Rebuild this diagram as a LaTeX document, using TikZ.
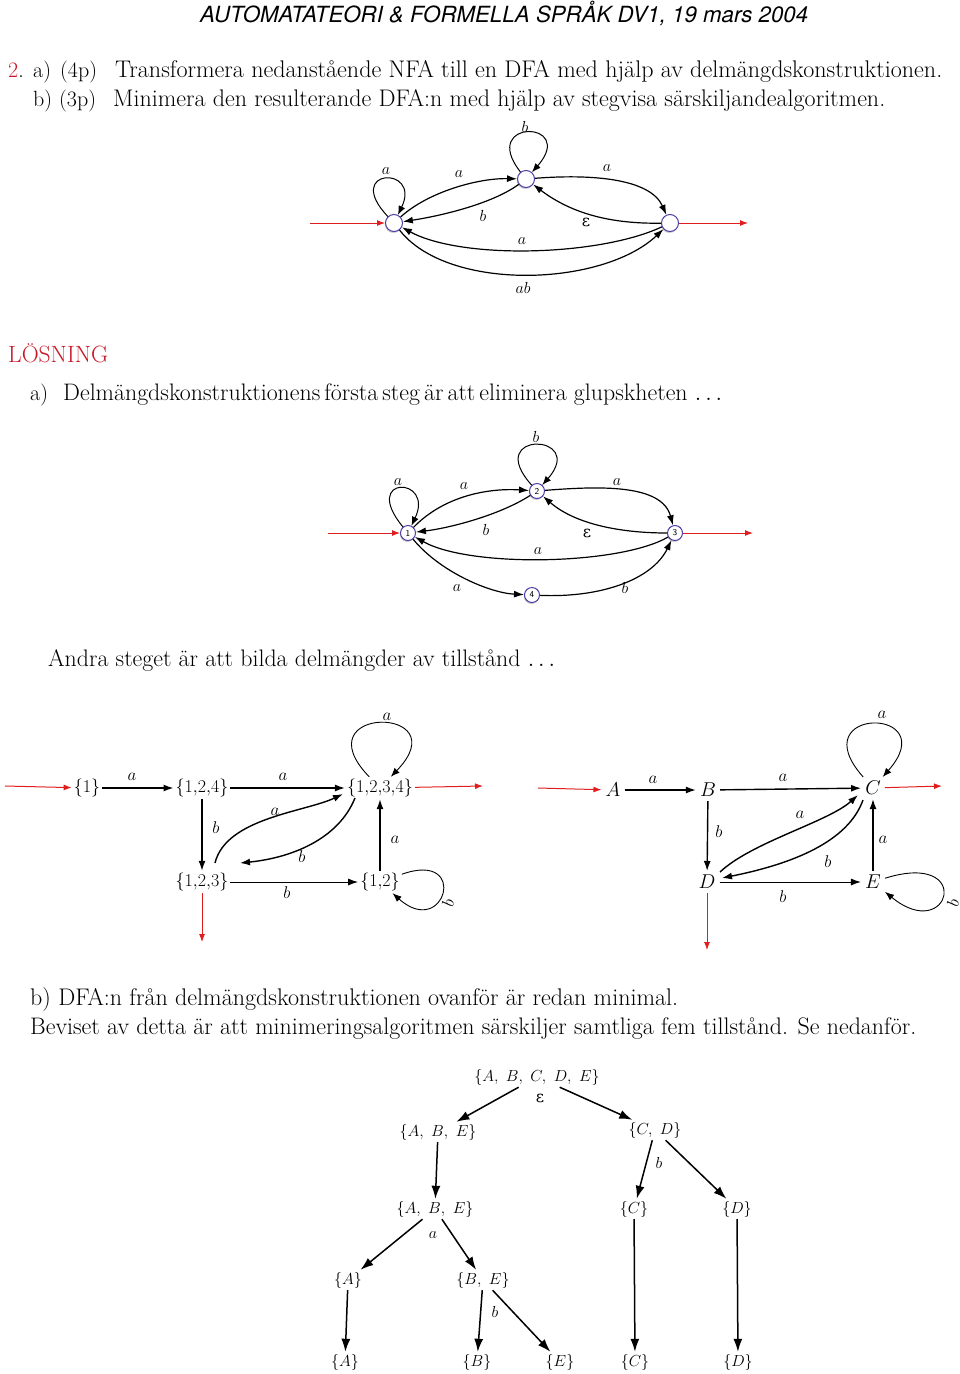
\RequirePackage{fix-cm}
\documentclass[tikz,border=0pt]{standalone}
\usepackage{fontspec}
\usepackage{graphicx}
\newfontfamily\helv{TeX Gyre Heros}
\newfontfamily\dvs{DejaVu Serif}
\usetikzlibrary{arrows.meta,shadows}
\definecolor{stateblue}{RGB}{80,60,165}
\definecolor{arrred}{RGB}{225,30,30}
\definecolor{headred}{RGB}{200,25,40}
\begin{document}
\begin{tikzpicture}[x=1pt,y=1pt,
  st/.style={circle,draw=stateblue,line width=1pt,fill=white,minimum size=17pt,inner sep=0pt,
    drop shadow={fill=black,opacity=0.2,shadow xshift=-0.6pt,shadow yshift=-1.5pt}},
  stn/.style={st,minimum size=15pt,font=\sffamily\fontsize{9}{9}\selectfont},
  arr/.style={-{Latex[length=10pt,width=7pt]},line width=1.2pt},
  lp/.style={-{Latex[length=9pt,width=7pt]},line width=1pt},
  redarr/.style={-{Latex[length=8pt,width=6pt]},draw=arrred,line width=1pt},
  lab/.style={inner sep=0pt,font=\fontsize{16}{16}\selectfont},
  dlab/.style={inner sep=0pt,font=\fontsize{17}{17}\selectfont},
  txt/.style={anchor=base west,inner sep=0pt,font=\fontsize{22}{26}\selectfont},
  setn/.style={inner sep=2pt,font=\fontsize{18}{18}\selectfont},
  letn/.style={inner sep=4pt,font=\fontsize{20}{20}\selectfont},
  darr/.style={-{Latex[length=10pt,width=7pt]},line width=1.4pt},
  tharr/.style={-{Latex[length=10pt,width=7pt]},line width=1pt},
  dlp/.style={-{Latex[length=9pt,width=7pt]},line width=0.9pt},
  tr/.style={inner sep=2pt,font=\fontsize{16}{16}\selectfont},
  tarr/.style={-{Latex[length=13pt,width=9pt]},line width=1.5pt},
]
\useasboundingbox (0,0) rectangle (960,-1374);

% ---------- texts ----------
\node[anchor=base west,inner sep=0pt,font=\fontsize{20}{24}\selectfont] (hdr) at (200,-22)
  {\resizebox{608pt}{!}{\helv\itshape AUTOMATATEORI \& FORMELLA SPR\AA K DV1, 19 mars 2004}};
\node[txt] (q2) at (8,-77) {\textcolor{headred}{2}.};
\node[txt] (qa) at (33,-77) {a)};
\node[txt] (q4p) at (60,-77) {(4p)};
\node[txt] (qt1) at (115,-77) {\resizebox{827pt}{!}{Transformera nedanstående NFA till en DFA med hjälp av delmängdskonstruktionen.}};
\node[txt] (qb) at (33,-106) {b)};
\node[txt] (q3p) at (59,-106) {(3p)};
\node[txt] (qt2) at (113,-106) {\resizebox{772pt}{!}{Minimera den resulterande DFA:n med hjälp av stegvisa särskiljandealgoritmen.}};
\node[txt,text=headred] (los) at (8,-362) {\resizebox{100pt}{!}{LÖSNING}};
\node[txt] (sa) at (30,-400) {a)};
\node[txt] (sat) at (63,-400) {\resizebox{659pt}{!}{{\spaceskip=0.17em plus 0.02em Delmängdskonstruktionens första steg är att eliminera} glupskheten $\ldots$}};
\node[txt] (and) at (48,-666) {\resizebox{507pt}{!}{Andra steget är att bilda delmängder av tillstånd $\ldots$}};
\node[txt] (sb) at (30,-1005) {\resizebox{648pt}{!}{b) DFA:n från delmängdskonstruktionen ovanför är redan minimal.}};
\node[txt] (bev) at (30,-1034) {\resizebox{886pt}{!}{Beviset av detta är att minimeringsalgoritmen särskiljer samtliga fem tillstånd. Se nedanför.}};

% ---------- NFA 1 ----------
\node[st] (s1) at (394,-223) {};
\node[st] (s2) at (526,-179) {};
\node[st] (s3) at (670,-223) {};
\coordinate (i1) at (310,-223);
\coordinate (o1) at (748,-223);
\draw[redarr] (i1) -- (s1);
\draw[redarr] (s3) -- (o1);
\draw[lp] (s1) .. controls (342,-168) and (422,-165) .. (s1);
\draw[lp] (s2) .. controls (478,-118) and (578,-120) .. (s2);
\draw[arr] (s1) .. controls (428,-192) and (478,-178) .. (s2);
\draw[arr] (s2) .. controls (492,-204) and (440,-216) .. (s1);
\draw[arr] (s2) .. controls (590,-174) and (650,-178) .. (s3);
\draw[arr] (s3) .. controls (612,-224) and (572,-214) .. (s2);
\draw[arr] (s3) .. controls (600,-256) and (462,-260) .. (s1);
\draw[arr] (s1) .. controls (448,-292) and (602,-287) .. (s3);
\node[lab] (l1) at (386,-171) {$a$};
\node[lab] (l2) at (525,-127) {$b$};
\node[lab] (l3) at (459,-174) {$a$};
\node[lab] (l4) at (483,-216) {$b$};
\node[lab] (l5) at (607,-168) {$a$};
\node[lab] (l6) at (586,-222) {\dvs ε};
\node[lab] (l7) at (522,-241) {$a$};
\node[lab] (l8) at (523,-288) {$ab$};

% ---------- NFA 2 ----------
\node[stn] (t1) at (408,-533) {1};
\node[stn] (t2) at (537,-491) {2};
\node[stn] (t3) at (675,-533) {3};
\node[stn] (t4) at (532,-595) {4};
\coordinate (i2) at (328,-533);
\coordinate (o2) at (753,-533);
\draw[redarr] (i2) -- (t1);
\draw[redarr] (t3) -- (o2);
\draw[lp] (t1) .. controls (360,-475) and (435,-476) .. (t1);
\draw[lp] (t2) .. controls (482,-430) and (588,-433) .. (t2);
\draw[arr] (t1) .. controls (445,-495) and (490,-488) .. (t2);
\draw[arr] (t2) .. controls (500,-515) and (450,-528) .. (t1);
\draw[arr] (t2) .. controls (600,-486) and (662,-484) .. (t3);
\draw[arr] (t3) .. controls (620,-533) and (575,-524) .. (t2);
\draw[arr] (t3) .. controls (620,-565) and (470,-568) .. (t1);
\draw[arr] (t1) .. controls (440,-572) and (490,-593) .. (t4);
\draw[arr] (t4) .. controls (600,-598) and (652,-580) .. (t3);
\node[lab] (m1) at (398,-482) {$a$};
\node[lab] (m2) at (536,-437) {$b$};
\node[lab] (m3) at (464,-486) {$a$};
\node[lab] (m4) at (486,-530) {$b$};
\node[lab] (m5) at (617,-482) {$a$};
\node[lab] (m6) at (587,-533) {\dvs ε};
\node[lab] (m7) at (538,-551) {$a$};
\node[lab] (m8) at (457,-588) {$a$};
\node[lab] (m9) at (625,-588) {$b$};

% ---------- subset DFA ----------
\node[setn] (n1) at (87,-788) {$\{1\}$};
\node[setn] (n124) at (202,-788) {$\{1{,}2{,}4\}$};
\node[setn] (n1234) at (380,-788) {$\{1{,}2{,}3{,}4\}$};
\node[setn] (n123) at (202,-882) {$\{1{,}2{,}3\}$};
\node[setn] (n12) at (380,-882) {$\{1{,}2\}$};
\coordinate (i3) at (5,-786);
\coordinate (o3) at (483,-786);
\coordinate (d3) at (202,-942);
\draw[redarr] (i3) -- (n1);
\draw[redarr] (n1234) -- (o3);
\draw[redarr] (n123) -- (d3);
\draw[darr] (n1) -- (n124);
\draw[darr] (n124) -- (n1234);
\draw[darr] (n124) -- (n123);
\draw[darr] ([xshift=13pt,yshift=19pt]n123.center) .. controls (226,-818) and (305,-812) .. ([xshift=-37pt,yshift=-6pt]n1234.center);
\draw[darr] ([xshift=-25pt,yshift=-10pt]n1234.center) .. controls (338,-840) and (290,-858) .. ([xshift=38pt,yshift=19pt]n123.center);
\draw[tharr] (n123) -- (n12);
\draw[darr] (n12) -- (n1234);
\draw[dlp] (n1234) .. controls (300,-705) and (460,-705) .. (n1234);
\draw[dlp] (n12) .. controls (470,-850) and (445,-940) .. (n12);
\node[dlab] (k1) at (132,-777) {$a$};
\node[dlab] (k2) at (283,-777) {$a$};
\node[dlab] (k3) at (216,-828) {$b$};
\node[dlab] (k4) at (275,-812) {$a$};
\node[dlab] (k5) at (302,-857) {$b$};
\node[dlab] (k6) at (287,-893) {$b$};
\node[dlab] (k7) at (395,-840) {$a$};
\node[dlab] (k8) at (387,-717) {$a$};
\node[dlab,rotate=80] (k9) at (448,-903) {$b$};

% ---------- letter DFA ----------
\node[letn] (A) at (613,-790) {$A$};
\node[letn] (B) at (708,-790) {$B$};
\node[letn] (C) at (873,-788) {$C$};
\node[letn] (D) at (707,-882) {$D$};
\node[letn] (E) at (873,-882) {$E$};
\coordinate (i4) at (538,-788);
\coordinate (o4) at (942,-786);
\coordinate (d4) at (707,-950);
\draw[redarr] (i4) -- (A);
\draw[redarr] (C) -- (o4);
\draw[redarr] (D) -- (d4);
\draw[darr] (A) -- (B);
\draw[darr] (B) -- (C);
\draw[darr] (B) -- (D);
\draw[darr] ([xshift=13pt,yshift=10pt]D.center) .. controls (752,-842) and (828,-822) .. ([xshift=-15pt,yshift=-7pt]C.center);
\draw[darr] ([xshift=-10pt,yshift=-12pt]C.center) .. controls (848,-842) and (792,-864) .. ([xshift=15pt,yshift=4pt]D.center);
\draw[tharr] (D) -- (E);
\draw[darr] (E) -- (C);
\draw[dlp] (C) .. controls (800,-706) and (945,-706) .. (C);
\draw[dlp] (E) .. controls (975,-850) and (950,-945) .. (E);
\node[dlab] (g1) at (653,-780) {$a$};
\node[dlab] (g2) at (783,-778) {$a$};
\node[dlab] (g3) at (719,-832) {$b$};
\node[dlab] (g4) at (800,-815) {$a$};
\node[dlab] (g5) at (828,-862) {$b$};
\node[dlab] (g6) at (783,-897) {$b$};
\node[dlab] (g7) at (883,-840) {$a$};
\node[dlab] (g8) at (882,-715) {$a$};
\node[dlab,rotate=80] (g9) at (953,-903) {$b$};

% ---------- tree ----------
\node[tr] (r) at (537,-1077) {$\{A,\ B,\ C,\ D,\ E\}$};
\node[tr] (abe1) at (438,-1132) {$\{A,\ B,\ E\}$};
\node[tr] (cd) at (655,-1130) {$\{C,\ D\}$};
\node[tr] (abe2) at (435,-1209) {$\{A,\ B,\ E\}$};
\node[tr] (c1) at (634,-1209) {$\{C\}$};
\node[tr] (d1) at (737,-1209) {$\{D\}$};
\node[tr] (a1) at (348,-1280) {$\{A\}$};
\node[tr] (be) at (483,-1280) {$\{B,\ E\}$};
\node[tr] (a2) at (345,-1362) {$\{A\}$};
\node[tr] (b2) at (477,-1362) {$\{B\}$};
\node[tr] (e2) at (560,-1362) {$\{E\}$};
\node[tr] (c2) at (635,-1362) {$\{C\}$};
\node[tr] (d2) at (738,-1362) {$\{D\}$};
\draw[tarr] (r) -- (abe1);
\draw[tarr] (r) -- (cd);
\draw[tarr] (abe1) -- (abe2);
\draw[tarr] (cd) -- (c1);
\draw[tarr] (cd) -- (d1);
\draw[tarr] (abe2) -- (a1);
\draw[tarr] (abe2) -- (be);
\draw[tarr] (c1) -- (c2);
\draw[tarr] (d1) -- (d2);
\draw[tarr] (a1) -- (a2);
\draw[tarr] (be) -- (b2);
\draw[tarr] (be) -- (e2);
\node[lab] (h1) at (540,-1098) {\dvs ε};
\node[lab] (h2) at (433,-1235) {$a$};
\node[lab] (h3) at (659,-1163) {$b$};
\node[lab] (h4) at (495,-1312) {$b$};
\end{tikzpicture}
\end{document}
